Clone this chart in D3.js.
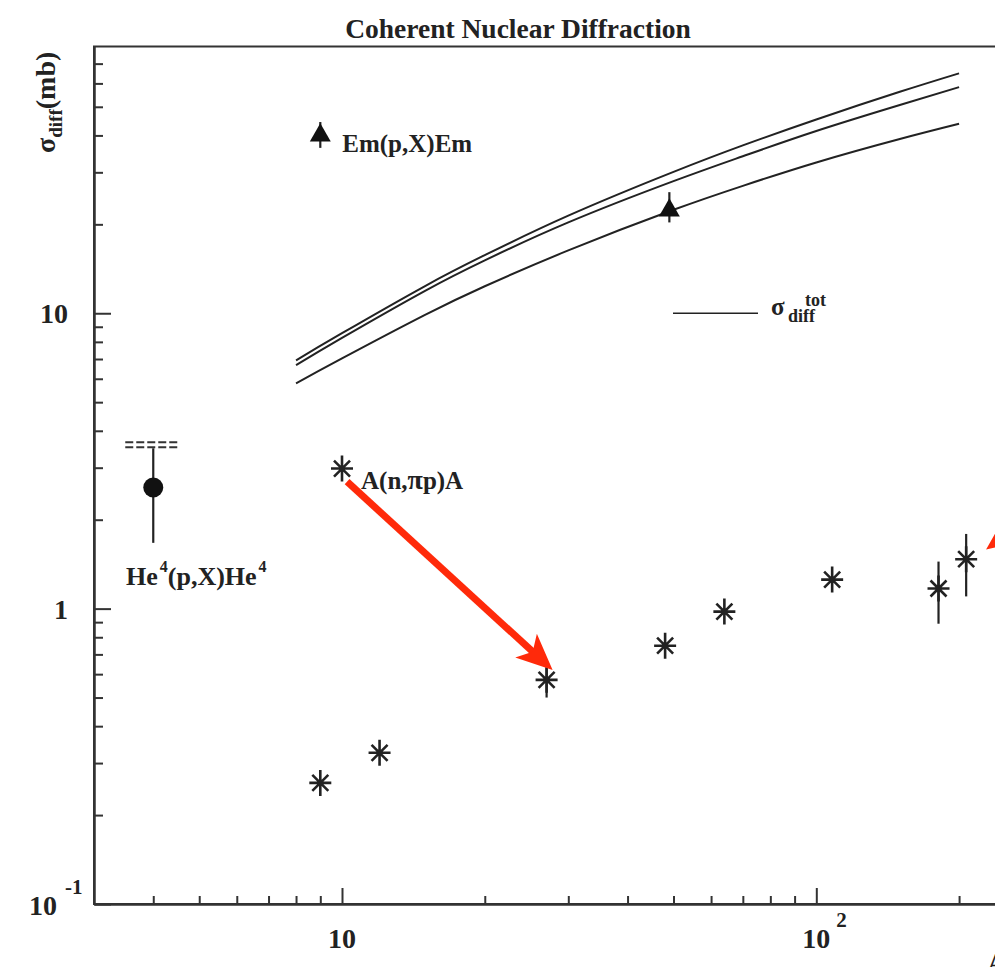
<!DOCTYPE html>
<html>
<head>
<meta charset="utf-8">
<script src="https://cdn.jsdelivr.net/npm/d3@7"></script>
<style>
    body { margin: 0; background: #fff; }
    svg { display: block; }
    text { font-family: 'Liberation Serif', 'Times New Roman', serif; font-weight: bold; fill: #222; }
</style>
</head>
<body>
<svg id="chart"></svg>
<script>
// sigma_diff^tot curves
const curveA = [8, 10, 15, 20, 30, 50, 70, 100, 150, 200];
const curveUpper = [6.93, 8.56, 12.39, 15.73, 21.4, 30.1, 37.0, 45.3, 56.2, 64.9];
const curveMiddle = [6.67, 8.25, 11.93, 15.1, 20.3, 28.0, 34.0, 41.4, 50.7, 58.3];
const curveLower = [5.79, 7.03, 9.89, 12.34, 16.32, 22.4, 27.0, 32.4, 38.9, 43.8];

// A(n,pi p)A points
const npiA = [9, 12, 27, 48, 64, 108, 181, 207];
const npiSigma = [0.257, 0.325, 0.574, 0.749, 0.977, 1.254, 1.17, 1.47];
const npiLow = [0.257, 0.325, 0.50, 0.749, 0.977, 1.254, 0.889, 1.10];
const npiHigh = [0.257, 0.325, 0.63, 0.749, 0.977, 1.254, 1.443, 1.79];

// Em(p,X)Em
const emA = [49];
const emSigma = [22.3];
const emLow = [20.3];
const emHigh = [25.7];

// He4(p,X)He4
const heA = [4];
const heSigma = [2.57];
const heLow = [1.67];
const heHigh = [3.49];
const heBounds = [3.66, 3.52];

// legend keys
const emKey = { a: 9, sigma: 40, low: 36.3, high: 44.4 };
const npiKey = { a: 10, sigma: 2.98 };

// red annotation arrows [from, to]
const arrows = [
    [[10.25, 2.69], [27.8, 0.62]],
    [[380, 2.9], [228, 1.585]]
];

// axes
const xMajorTicks = [10, 100];
const xTickBase = ['10', '10'];
const xTickSup = ['', '2'];
const xMinorTicks = [4, 5, 6, 7, 8, 9, 20, 30, 40, 50, 60, 70, 80, 90, 200];
const yMajorTicks = [0.1, 1, 10];
const yTickBase = ['10', '1', '10'];
const yTickSup = ['-1', '', ''];
const yMinorTicks = [0.2, 0.3, 0.4, 0.5, 0.6, 0.7, 0.8, 0.9, 2, 3, 4, 5, 6, 7, 8, 9, 20, 30, 40, 50, 60, 70];

class DiffractionPlot {
    constructor(_config) {
        this.config = {
            parentElement: _config.parentElement,
            containerWidth: _config.containerWidth || 995,
            containerHeight: _config.containerHeight || 967,
            margin: { top: 46.5, left: 94, bottom: 63 }
        }
        this.initVis();
        this.renderVis();
    }

    initVis() {
        let vis = this;

        vis.height = vis.config.containerHeight - vis.config.margin.top - vis.config.margin.bottom;
        vis.plotRight = vis.config.margin.left + 2 * 474.3;

        vis.x = d3.scaleLog()
            .domain([3, 300])
            .range([vis.config.margin.left, vis.plotRight]);

        vis.y = d3.scaleLog()
            .domain([0.1, 80])
            .range([vis.config.margin.top + vis.height, vis.config.margin.top]);

        vis.svg = d3.select(vis.config.parentElement)
            .attr('width', vis.config.containerWidth)
            .attr('height', vis.config.containerHeight);
    }

    renderVis() {
        let vis = this;
        const x = vis.x, y = vis.y;
        const left = vis.config.margin.left;
        const bottom = vis.config.margin.top + vis.height;

        // Title
        vis.svg.append('text')
            .attr('x', 518)
            .attr('y', 38)
            .attr('text-anchor', 'middle')
            .style('font-size', '27.5px')
            .text('Coherent Nuclear Diffraction');

        // Frame
        vis.svg.append('rect')
            .attr('x', left)
            .attr('y', vis.config.margin.top)
            .attr('width', vis.plotRight - left)
            .attr('height', vis.height)
            .attr('fill', 'none')
            .attr('stroke', '#333')
            .attr('stroke-width', 2);

        // Minor and major ticks, pointing into the plot
        const yMinor = vis.svg.append('g')
            .attr('transform', `translate(${left},0)`)
            .call(d3.axisRight(y).tickValues(yMinorTicks).tickSize(9).tickSizeOuter(0).tickFormat(''));
        const yMajor = vis.svg.append('g')
            .attr('transform', `translate(${left},0)`)
            .call(d3.axisRight(y).tickValues(yMajorTicks).tickSize(17).tickSizeOuter(0).tickFormat(''));
        const xMinor = vis.svg.append('g')
            .attr('transform', `translate(0,${bottom})`)
            .call(d3.axisTop(x).tickValues(xMinorTicks).tickSize(8).tickSizeOuter(0).tickFormat(''));
        const xMajor = vis.svg.append('g')
            .attr('transform', `translate(0,${bottom})`)
            .call(d3.axisTop(x).tickValues(xMajorTicks).tickSize(16).tickSizeOuter(0).tickFormat(''));

        [yMinor, yMajor, xMinor, xMajor].forEach(g => {
            g.select('.domain').attr('stroke', '#333').attr('stroke-width', 2);
            g.selectAll('.tick line').attr('stroke', '#333').attr('stroke-width', 2);
        });

        // Y tick labels
        yMajorTicks.forEach((v, i) => {
            if (yTickSup[i]) {
                vis.svg.append('text')
                    .attr('x', left - 65)
                    .attr('y', y(v) + 11)
                    .style('font-size', '28px')
                    .text(yTickBase[i]);
                vis.svg.append('text')
                    .attr('x', left - 29)
                    .attr('y', y(v) - 10)
                    .style('font-size', '21px')
                    .text(yTickSup[i]);
            } else {
                vis.svg.append('text')
                    .attr('x', left - 26)
                    .attr('y', y(v) + 10)
                    .attr('text-anchor', 'end')
                    .style('font-size', '28px')
                    .text(yTickBase[i]);
            }
        });

        // X tick labels
        xMajorTicks.forEach((v, i) => {
            vis.svg.append('text')
                .attr('x', x(v))
                .attr('y', bottom + 44)
                .attr('text-anchor', 'middle')
                .style('font-size', '28px')
                .text(xTickBase[i]);
            if (xTickSup[i]) {
                vis.svg.append('text')
                    .attr('x', x(v) + 20)
                    .attr('y', bottom + 23)
                    .style('font-size', '21px')
                    .text(xTickSup[i]);
            }
        });

        // Axis titles
        const yTitle = vis.svg.append('text')
            .attr('transform', 'translate(55,153) rotate(-90)')
            .style('font-size', '28px');
        yTitle.append('tspan').text('\u03c3');
        yTitle.append('tspan').attr('dy', 7).style('font-size', '19px').text('diff');
        yTitle.append('tspan').attr('dy', -7).text('(mb)');

        vis.svg.append('text')
            .attr('x', 987)
            .attr('y', 972)
            .style('font-size', '28px')
            .text('A');

        // Curves
        const line = d3.line()
            .x(d => x(d[0]))
            .y(d => y(d[1]))
            .curve(d3.curveNatural);

        [curveUpper, curveMiddle, curveLower].forEach(series => {
            vis.svg.append('path')
                .datum(curveA.map((a, i) => [a, series[i]]))
                .attr('d', line)
                .attr('fill', 'none')
                .attr('stroke', '#222')
                .attr('stroke-width', 2);
        });

        // Curve legend
        vis.svg.append('line')
            .attr('x1', 673).attr('x2', 758)
            .attr('y1', y(10)).attr('y2', y(10))
            .attr('stroke', '#222')
            .attr('stroke-width', 1.5);
        vis.svg.append('text').attr('x', 771).attr('y', 315).style('font-size', '25px').text('\u03c3');
        vis.svg.append('text').attr('x', 788).attr('y', 322).style('font-size', '18px').text('diff');
        vis.svg.append('text').attr('x', 805).attr('y', 306).style('font-size', '18px').text('tot');

        // Error bars
        const errorBar = (a, lo, hi) => {
            vis.svg.append('line')
                .attr('x1', x(a)).attr('x2', x(a))
                .attr('y1', y(lo)).attr('y2', y(hi))
                .attr('stroke', '#222')
                .attr('stroke-width', 2.2);
        };

        // He4 point
        heA.forEach((a, i) => {
            heBounds.forEach(b => {
                vis.svg.append('line')
                    .attr('x1', x(a) - 28).attr('x2', x(a) + 27)
                    .attr('y1', y(b)).attr('y2', y(b))
                    .attr('stroke', '#333').attr('stroke-width', 2)
                    .attr('stroke-dasharray', '8,3');
            });
            errorBar(a, heLow[i], heHigh[i]);
            vis.svg.append('circle')
                .attr('cx', x(a))
                .attr('cy', y(heSigma[i]))
                .attr('r', 10)
                .attr('fill', '#111');
        });

        const heLabel = vis.svg.append('text')
            .attr('x', 126)
            .attr('y', 585)
            .style('font-size', '26px');
        heLabel.append('tspan').text('He');
        heLabel.append('tspan').attr('dy', -13).attr('dx', 2).style('font-size', '16px').text('4');
        heLabel.append('tspan').attr('dy', 13).text('(p,X)He');
        heLabel.append('tspan').attr('dy', -13).attr('dx', 2).style('font-size', '16px').text('4');

        // Triangles
        const tri = d3.symbol().type(d3.symbolTriangle).size(190);
        emA.forEach((a, i) => {
            errorBar(a, emLow[i], emHigh[i]);
            vis.svg.append('path')
                .attr('d', tri())
                .attr('transform', `translate(${x(a)},${y(emSigma[i])})`)
                .attr('fill', '#111');
        });
        errorBar(emKey.a, emKey.low, emKey.high);
        vis.svg.append('path')
            .attr('d', tri())
            .attr('transform', `translate(${x(emKey.a)},${y(emKey.sigma)})`)
            .attr('fill', '#111');
        vis.svg.append('text')
            .attr('x', x(emKey.a) + 22)
            .attr('y', y(emKey.sigma) + 17)
            .style('font-size', '25px')
            .text('Em(p,X)Em');

        // Asterisks
        const star = 'M0,-13V13M-11,0H11M-8,-8L8,8M-8,8L8,-8';
        const drawStar = (a, s) => {
            vis.svg.append('path')
                .attr('d', star)
                .attr('transform', `translate(${x(a)},${y(s)})`)
                .attr('fill', 'none')
                .attr('stroke', '#222')
                .attr('stroke-width', 2.6);
        };
        npiA.forEach((a, i) => {
            if (npiLow[i] !== npiHigh[i]) errorBar(a, npiLow[i], npiHigh[i]);
            drawStar(a, npiSigma[i]);
        });
        drawStar(npiKey.a, npiKey.sigma);
        const npiLabel = vis.svg.append('text')
            .attr('x', x(npiKey.a) + 19)
            .attr('y', y(npiKey.sigma) + 20)
            .style('font-size', '25px');
        npiLabel.append('tspan').text('A(n,');
        npiLabel.append('tspan').style('font-size', '28px').text('\u03c0');
        npiLabel.append('tspan').text('p)A');

        // Red arrows
        arrows.forEach(([from, to]) => {
            const x1 = x(from[0]), y1 = y(from[1]);
            const x2 = x(to[0]), y2 = y(to[1]);
            const len = Math.hypot(x2 - x1, y2 - y1);
            const k = (len - 26) / len;
            vis.svg.append('line')
                .attr('x1', x1).attr('y1', y1)
                .attr('x2', x1 + (x2 - x1) * k).attr('y2', y1 + (y2 - y1) * k)
                .attr('stroke', '#ff2a0a')
                .attr('stroke-width', 7);
            vis.svg.append('path')
                .attr('d', 'M0,0L-36,-16L-27,0L-36,16Z')
                .attr('transform', `translate(${x2},${y2}) rotate(${Math.atan2(y2 - y1, x2 - x1) * 180 / Math.PI})`)
                .attr('fill', '#ff2a0a');
        });
    }
}

new DiffractionPlot({ parentElement: '#chart' });
</script>
</body>
</html>
